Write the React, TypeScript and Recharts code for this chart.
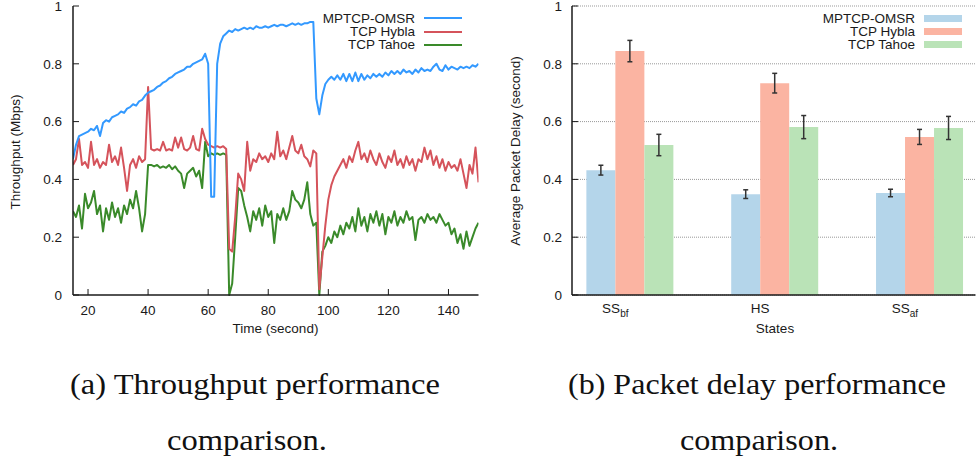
import React from "react";
import { LineChart, Line, BarChart, Bar, XAxis, YAxis, CartesianGrid, ErrorBar } from "recharts";

// throughput samples, one per second starting at t = 15 s
const startTime = 15;

const omsr = [
  0.47, 0.52, 0.55, 0.555, 0.56, 0.565, 0.575, 0.57, 0.585, 0.55,
  0.595, 0.605, 0.6, 0.615, 0.62, 0.625, 0.635, 0.63, 0.645, 0.65,
  0.66, 0.655, 0.67, 0.675, 0.69, 0.7, 0.705, 0.71, 0.72, 0.725,
  0.735, 0.74, 0.75, 0.755, 0.765, 0.77, 0.775, 0.78, 0.79, 0.79,
  0.8, 0.805, 0.81, 0.815, 0.835, 0.8, 0.34, 0.34, 0.8, 0.87,
  0.895, 0.905, 0.915, 0.91, 0.92, 0.915, 0.92, 0.925, 0.92, 0.925,
  0.92, 0.93, 0.925, 0.925, 0.93, 0.925, 0.93, 0.935, 0.93, 0.935,
  0.935, 0.93, 0.935, 0.94, 0.935, 0.94, 0.935, 0.94, 0.94, 0.945,
  0.945, 0.68, 0.625, 0.69, 0.73, 0.745, 0.755, 0.745, 0.76, 0.745,
  0.765, 0.74, 0.765, 0.74, 0.77, 0.74, 0.765, 0.745, 0.76, 0.75,
  0.765, 0.755, 0.765, 0.755, 0.77, 0.76, 0.775, 0.765, 0.775, 0.765,
  0.78, 0.77, 0.775, 0.765, 0.78, 0.77, 0.785, 0.775, 0.78, 0.775,
  0.79, 0.8, 0.78, 0.775, 0.795, 0.78, 0.79, 0.785, 0.78, 0.79,
  0.785, 0.79, 0.785, 0.795, 0.79, 0.8,
];

const hybla = [
  0.45, 0.47, 0.54, 0.45, 0.46, 0.44, 0.53, 0.45, 0.47, 0.44,
  0.46, 0.45, 0.52, 0.46, 0.48, 0.45, 0.51, 0.44, 0.36, 0.45,
  0.47, 0.44, 0.48, 0.46, 0.47, 0.72, 0.505, 0.5, 0.505, 0.5,
  0.53, 0.5, 0.505, 0.5, 0.545, 0.51, 0.545, 0.505, 0.5, 0.51,
  0.55, 0.505, 0.5, 0.575, 0.54, 0.52, 0.515, 0.51, 0.515, 0.51,
  0.515, 0.505, 0.16, 0.15, 0.27, 0.42, 0.4, 0.36, 0.53, 0.43,
  0.47, 0.46, 0.49, 0.47, 0.48, 0.46, 0.49, 0.47, 0.565, 0.48,
  0.5, 0.47, 0.51, 0.55, 0.5, 0.49, 0.52, 0.48, 0.47, 0.445,
  0.5, 0.49, 0.02, 0.13, 0.24, 0.33, 0.38, 0.41, 0.43, 0.45,
  0.47, 0.44, 0.48, 0.46, 0.5, 0.53, 0.47, 0.49, 0.46, 0.5,
  0.47, 0.45, 0.49, 0.46, 0.44, 0.48, 0.46, 0.5, 0.45, 0.47,
  0.44, 0.48, 0.45, 0.47, 0.43, 0.47, 0.46, 0.51, 0.47, 0.5,
  0.45, 0.48, 0.44, 0.47, 0.43, 0.46, 0.44, 0.45, 0.43, 0.47,
  0.42, 0.37, 0.45, 0.42, 0.51, 0.39,
];

const tahoe = [
  0.29, 0.27, 0.31, 0.23, 0.35, 0.3, 0.32, 0.36, 0.28, 0.31,
  0.22, 0.3, 0.26, 0.32, 0.27, 0.3, 0.25, 0.31, 0.28, 0.33,
  0.3, 0.36, 0.3, 0.22, 0.28, 0.45, 0.45, 0.445, 0.45, 0.44,
  0.445, 0.44, 0.45, 0.435, 0.445, 0.43, 0.42, 0.37, 0.42, 0.43,
  0.44, 0.41, 0.43, 0.37, 0.53, 0.48, 0.49, 0.485, 0.49, 0.485,
  0.49, 0.485, 0.0, 0.04, 0.2, 0.37, 0.36, 0.31, 0.27, 0.22,
  0.29, 0.26, 0.3, 0.24, 0.31, 0.27, 0.29, 0.18, 0.28, 0.26,
  0.3, 0.26, 0.29, 0.36, 0.33, 0.32, 0.3, 0.33, 0.39, 0.28,
  0.24, 0.25, 0.0, 0.15, 0.17, 0.2, 0.18, 0.22, 0.2, 0.24,
  0.21, 0.25, 0.23, 0.27, 0.22, 0.3, 0.24, 0.27, 0.22, 0.28,
  0.25, 0.29, 0.24, 0.28, 0.21, 0.27, 0.25, 0.29, 0.24, 0.27,
  0.25, 0.29, 0.26, 0.27, 0.19, 0.26, 0.27, 0.25, 0.28, 0.26,
  0.27, 0.25, 0.28, 0.26, 0.24, 0.25, 0.21, 0.23, 0.18, 0.21,
  0.16, 0.22, 0.17, 0.2, 0.23, 0.25,
];

const timeTicks = [20, 40, 60, 80, 100, 120, 140];
const unitTicks = [0, 0.2, 0.4, 0.6, 0.8, 1];

// packet delay per state (mean and error half-width)
const stateNames = ["SS", "HS", "SS"];
const stateSubs = ["bf", "", "af"];
const delayOmsr = [0.432, 0.349, 0.353];
const errOmsr = [0.017, 0.015, 0.013];
const delayHybla = [0.844, 0.733, 0.547];
const errHybla = [0.037, 0.034, 0.026];
const delayTahoe = [0.519, 0.581, 0.578];
const errTahoe = [0.037, 0.04, 0.04];

const series = [
  { key: "omsr", name: "MPTCP-OMSR", line: "#3399ff", bar: "#b4d5ea" },
  { key: "hybla", name: "TCP Hybla", line: "#d5535b", bar: "#fbb4a2" },
  { key: "tahoe", name: "TCP Tahoe", line: "#3a8a2a", bar: "#bae3b7" },
];

const timeRows = omsr.map((v, i) => ({
  t: startTime + i,
  omsr: v,
  hybla: hybla[i],
  tahoe: tahoe[i],
}));

// bar clusters sit a little right of their state tick
const clusterShift = 0.1;
const delayRows = stateNames.map((_, i) => ({
  pos: i + 1 + clusterShift,
  omsr: delayOmsr[i],
  omsrErr: errOmsr[i],
  hybla: delayHybla[i],
  hyblaErr: errHybla[i],
  tahoe: delayTahoe[i],
  tahoeErr: errTahoe[i],
}));

const ink = "#1a1a1a";
const frame = { stroke: ink, strokeWidth: 1.5 };
const tickMark = { stroke: ink, strokeWidth: 1 };
const tickText = { fill: ink, fontSize: 13.5 };
const blankTick = () => <g />;

function StateTick(props: any) {
  const { x, y, payload } = props;
  const i = Math.round(payload.value) - 1;
  return (
    <text x={x} y={y} dy="0.71em" textAnchor="middle" fill={ink} fontSize={13.5}>
      {stateNames[i]}
      {stateSubs[i] ? (
        <tspan dy={4} fontSize={10}>
          {stateSubs[i]}
        </tspan>
      ) : null}
    </text>
  );
}

function Key({ right, kind }: { right: number; kind: "line" | "bar" }) {
  return (
    <div style={{ position: "absolute", top: 11.5, right, fontSize: 13.5, color: ink }}>
      {series.map((s) => (
        <div
          key={s.key}
          style={{ display: "flex", justifyContent: "flex-end", alignItems: "center", height: 13.4, gap: 9 }}
        >
          <span style={{ lineHeight: "13.4px" }}>{s.name}</span>
          <span
            style={{
              display: "inline-block",
              width: 38,
              height: kind === "line" ? 2 : 7,
              background: kind === "line" ? s.line : s.bar,
            }}
          />
        </div>
      ))}
    </div>
  );
}

function AxisTitle({ text, cx, cy, rotate }: { text: string; cx: number; cy: number; rotate?: boolean }) {
  return (
    <div
      style={{
        position: "absolute",
        left: cx - 120,
        top: cy - 8,
        width: 240,
        height: 16,
        lineHeight: "16px",
        textAlign: "center",
        fontSize: 13.5,
        color: ink,
        transform: rotate ? "rotate(-90deg)" : undefined,
      }}
    >
      {text}
    </div>
  );
}

export default function App() {
  return (
    <div
      style={{
        position: "fixed",
        left: 0,
        top: 0,
        width: 977,
        height: 461,
        background: "#fff",
        overflow: "hidden",
        fontFamily: "'Liberation Sans', Arial, sans-serif",
      }}
    >
      {/* throughput over time */}
      <div style={{ position: "absolute", left: 0, top: 0, width: 490, height: 340 }}>
        <LineChart width={490} height={340} data={timeRows} margin={{ top: 6, right: 11.5, bottom: 15, left: 13 }}>
          <XAxis
            xAxisId="bottom"
            dataKey="t"
            type="number"
            domain={[15, 150]}
            allowDataOverflow
            ticks={timeTicks}
            interval={0}
            height={30}
            tickSize={-6}
            tickMargin={16}
            axisLine={frame}
            tickLine={tickMark}
            tick={tickText}
          />
          <XAxis
            xAxisId="top"
            orientation="top"
            dataKey="t"
            type="number"
            domain={[15, 150]}
            allowDataOverflow
            ticks={timeTicks}
            interval={0}
            height={0}
            tickSize={-6}
            axisLine={frame}
            tickLine={tickMark}
            tick={blankTick}
          />
          <YAxis
            yAxisId="left"
            type="number"
            domain={[0, 1]}
            ticks={unitTicks}
            interval={0}
            width={60}
            tickSize={-6}
            tickMargin={17}
            axisLine={frame}
            tickLine={tickMark}
            tick={tickText}
          />
          <YAxis
            yAxisId="right"
            orientation="right"
            type="number"
            domain={[0, 1]}
            ticks={unitTicks}
            interval={0}
            width={0}
            tickSize={-6}
            axisLine={frame}
            tickLine={tickMark}
            tick={blankTick}
          />
          {[...series].reverse().map((s) => (
            <Line
              key={s.key}
              xAxisId="bottom"
              yAxisId="left"
              type="linear"
              dataKey={s.key}
              name={s.name}
              stroke={s.line}
              strokeWidth={2}
              strokeLinejoin="round"
              dot={false}
              isAnimationActive={false}
            />
          ))}
        </LineChart>
        <Key right={28} kind="line" />
      </div>
      <AxisTitle text="Throughput (Mbps)" cx={15.5} cy={152} rotate />
      <AxisTitle text="Time (second)" cx={275.5} cy={329} />

      {/* packet delay per state */}
      <div style={{ position: "absolute", left: 490, top: 0, width: 487, height: 340 }}>
        <BarChart
          width={487}
          height={340}
          data={delayRows}
          margin={{ top: 6, right: 1.5, bottom: 15, left: 22 }}
          barGap={0}
          barSize={29}
        >
          <CartesianGrid
            xAxisId="bottom"
            yAxisId="left"
            vertical={false}
            stroke="#999"
            strokeDasharray="1 1"
          />
          <XAxis
            xAxisId="bottom"
            dataKey="pos"
            type="number"
            domain={[0.701, 3.487]}
            allowDataOverflow
            ticks={[1, 2, 3]}
            interval={0}
            height={30}
            tickSize={0}
            tickMargin={8}
            axisLine={frame}
            tickLine={false}
            tick={<StateTick />}
          />
          <XAxis
            xAxisId="top"
            orientation="top"
            dataKey="pos"
            type="number"
            domain={[0.701, 3.487]}
            allowDataOverflow
            ticks={[1, 2, 3]}
            interval={0}
            height={0}
            tickSize={-6}
            axisLine={frame}
            tickLine={tickMark}
            tick={blankTick}
          />
          <YAxis
            yAxisId="left"
            type="number"
            domain={[0, 1]}
            ticks={unitTicks}
            interval={0}
            width={60}
            tickSize={-6}
            tickMargin={16}
            axisLine={frame}
            tickLine={tickMark}
            tick={tickText}
          />
          <YAxis
            yAxisId="right"
            orientation="right"
            type="number"
            domain={[0, 1]}
            ticks={unitTicks}
            interval={0}
            width={0}
            tickSize={-6}
            axisLine={frame}
            tickLine={tickMark}
            tick={blankTick}
          />
          {series.map((s) => (
            <Bar
              key={s.key}
              xAxisId="bottom"
              yAxisId="left"
              dataKey={s.key}
              name={s.name}
              fill={s.bar}
              isAnimationActive={false}
            >
              <ErrorBar dataKey={`${s.key}Err`} direction="y" width={2.5} stroke="#333" strokeWidth={1.5} />
            </Bar>
          ))}
        </BarChart>
        <Key right={15} kind="bar" />
      </div>
      <AxisTitle text="Average Packet Delay (second)" cx={516} cy={151} rotate />
      <AxisTitle text="States" cx={775} cy={329} />

      {/* sub-figure captions */}
      <svg width={977} height={461} style={{ position: "absolute", left: 0, top: 0, pointerEvents: "none" }}>
        <g fontFamily="'Liberation Serif', 'DejaVu Serif', serif" fontSize={29} fill="#111" textAnchor="middle">
          <text x={255} y={394} textLength={370} lengthAdjust="spacingAndGlyphs">
            (a) Throughput performance
          </text>
          <text x={247} y={450} textLength={160} lengthAdjust="spacingAndGlyphs">
            comparison.
          </text>
          <text x={757} y={394} textLength={378} lengthAdjust="spacingAndGlyphs">
            (b) Packet delay performance
          </text>
          <text x={759} y={450} textLength={158} lengthAdjust="spacingAndGlyphs">
            comparison.
          </text>
        </g>
      </svg>
    </div>
  );
}
